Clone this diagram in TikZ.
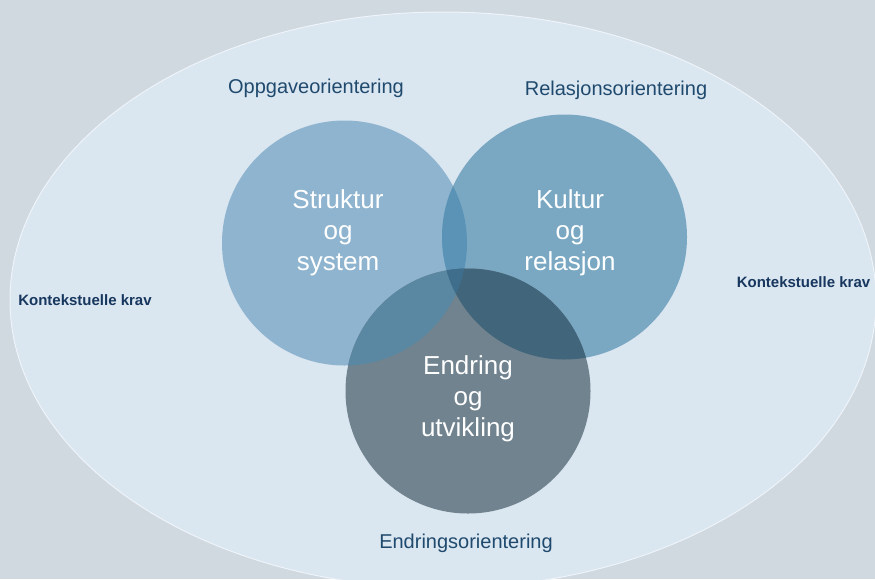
\documentclass[tikz,border=0pt]{standalone}
\usepackage{fontspec}
\setmainfont{Liberation Sans}
\usepackage{tikz}
\usepackage{xcolor}
\definecolor{ColBg}{HTML}{D0D8E0}
\definecolor{ColEll}{HTML}{DAE6F0}
\definecolor{ColRim}{HTML}{EEF4F9}
\definecolor{ColLeft}{HTML}{8FB4CF}
\definecolor{ColRight}{HTML}{7AA8C3}
\definecolor{ColBottom}{HTML}{70838F}
\definecolor{ColSK}{HTML}{5A93B5}
\definecolor{ColSE}{HTML}{5A88A3}
\definecolor{ColKE}{HTML}{41657A}
\definecolor{ColSKE}{HTML}{3F6E8D}
\definecolor{ColText}{HTML}{1F4A6E}
\definecolor{ColDark}{HTML}{17375E}
\tikzstyle{CircleArea}=[circle,minimum size=245pt,inner sep=0pt]
\tikzstyle{CircleText}=[text=white,align=center,font=\fontsize{26}{31}\selectfont]
\tikzstyle{OrientText}=[text=ColText,anchor=base,inner sep=0pt,font=\fontsize{20}{24}\selectfont]
\tikzstyle{ContextText}=[text=ColDark,anchor=base,inner sep=0pt,font=\bfseries\fontsize{15}{18}\selectfont]
\begin{document}
\begin{tikzpicture}[x=1pt,y=-1pt]
        \useasboundingbox(0,0)rectangle(875,579);
        \fill[ColBg](0,0)rectangle(875,579);
        \begin{scope}
            \clip(0,0)rectangle(875,579);
            \draw[ColRim,fill=ColEll,line width=1pt](443,300)ellipse[x radius=433pt,y radius=288pt];
        \end{scope}
        \node[CircleArea,fill=ColLeft](s)at(344.5,243){};
        \node[CircleArea,fill=ColRight](k)at(564.5,237){};
        \node[CircleArea,fill=ColBottom](e)at(468,391){};
        \begin{scope}
            \clip(s.center)circle(122.5pt);
            \fill[ColSK](k.center)circle(122.5pt);
            \fill[ColSE](e.center)circle(122.5pt);
        \end{scope}
        \begin{scope}
            \clip(k.center)circle(122.5pt);
            \fill[ColKE](e.center)circle(122.5pt);
            \clip(s.center)circle(122.5pt);
            \fill[ColSKE](e.center)circle(122.5pt);
        \end{scope}
        \node[CircleText](st)at(338,233){Struktur\\og\\system};
        \node[CircleText](kt)at(570,233){Kultur\\og\\relasjon};
        \node[CircleText](et)at(468,399){Endring\\og\\utvikling};
        \node[OrientText](oppg)at(316,93){Oppgaveorientering};
        \node[OrientText](rel)at(616,95){Relasjonsorientering};
        \node[OrientText](endr)at(466,548){Endringsorientering};
        \node[ContextText](kl)at(85,305){Kontekstuelle krav};
        \node[ContextText](kr)at(803.5,287){Kontekstuelle krav};
    \end{tikzpicture}
\end{document}
